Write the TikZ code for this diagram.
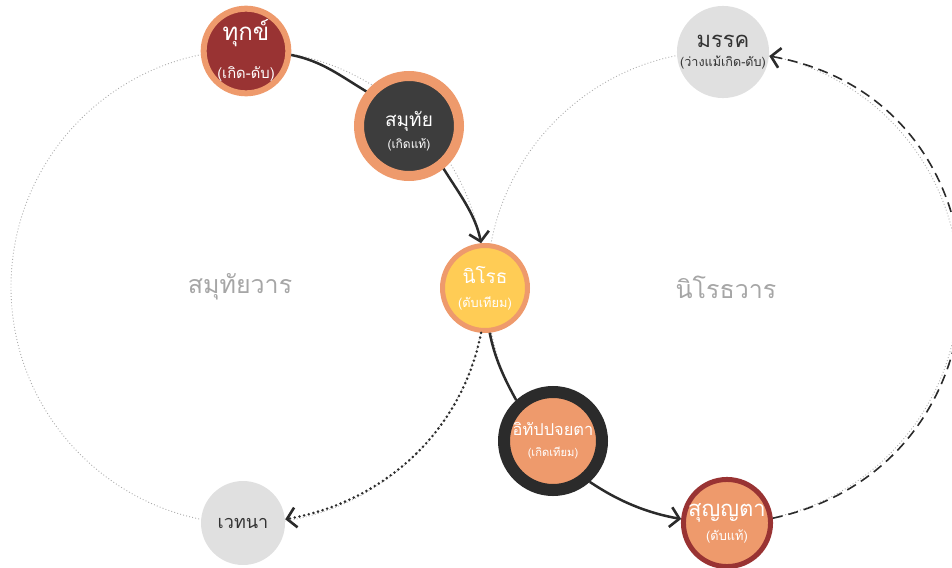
\documentclass[tikz,border=0pt]{standalone}
\usepackage{fontspec}
\newfontfamily\thai[Script=Thai]{Loma}
\usetikzlibrary{arrows.meta}
\definecolor{dred}{HTML}{993333}
\definecolor{org}{HTML}{EE9A6C}
\definecolor{dgray}{HTML}{3D3D3D}
\definecolor{ylw}{HTML}{FFCC55}
\definecolor{blk}{HTML}{2B2B2B}
\definecolor{lgray}{HTML}{E0E0E0}
\definecolor{lbl}{HTML}{A6A6A6}
\definecolor{ringc}{HTML}{ABABAB}
\definecolor{txtd}{HTML}{333333}
\newcommand{\mainf}{\fontsize{9.5}{11}\selectfont}
\newcommand{\subf}{\fontsize{6}{7}\selectfont}
\begin{document}
\begin{tikzpicture}[x=0.5pt,y=-0.5pt,
  stage/.style={circle, inner sep=0pt, align=center, font=\thai, text=white},
  ring/.style={draw=ringc, line width=0.45pt, dash pattern=on 0.45pt off 1.1pt},
  flow/.style={draw=blk, line width=1.25pt},
  tip/.style={-{Straight Barb[length=4.5pt,width=10pt,line width=1.3pt]}},
  era/.style={font=\thai\fontsize{12.5}{14}\selectfont, text=lbl}]
\clip (0,0) rectangle (952,567);
\coordinate (LC) at (248,287);
\coordinate (RC) at (723,287);
\draw[ring] (LC) circle[radius=237];
\draw[ring] (RC) circle[radius=236];
\node[era] (samuthaiwan) at (240,287) {สมุทัยวาร};
\node[era] (nirodhawan) at (726,287) {นิโรธวาร};

\node[stage, minimum size=42pt, line width=3pt, fill=dred, draw=org] (dukkha) at (246,51)
  {\fontsize{12}{13}\selectfont ทุกข์\\[7pt]\fontsize{7.4}{8}\selectfont (เกิด-ดับ)};
\node[stage, minimum size=50pt, line width=5pt, fill=dgray, draw=org] (samuthai) at (409,126)
  {\rule{0pt}{13pt}\mainf สมุทัย\\[-1pt]\subf (เกิดแท้)};
\node[stage, minimum size=42.5pt, line width=2.5pt, fill=ylw, draw=org] (nirodha) at (485,288)
  {\mainf นิโรธ\\[0pt]\fontsize{6.4}{7}\selectfont (ดับเทียม)};
\node[stage, minimum size=49pt, line width=6pt, fill=org, draw=blk] (idappa) at (553,441)
  {\fontsize{8.2}{10}\selectfont อิทัปปจยตา\\[-1.5pt]\fontsize{5.6}{7}\selectfont (เกิดเทียม)};
\node[stage, minimum size=42.5pt, line width=2.5pt, fill=org, draw=dred] (sunyata) at (727,523)
  {\fontsize{11}{12}\selectfont สุญญตา\\[0pt]\fontsize{6.4}{7}\selectfont (ดับแท้)};
\node[stage, minimum size=42pt, fill=lgray, text=txtd] (magga) at (723,52)
  {\fontsize{11}{12}\selectfont มรรค\\[-2.5pt]\fontsize{6.3}{7}\selectfont (ว่างแม้เกิด-ดับ)};
\node[stage, minimum size=42pt, fill=lgray, text=txtd] (vedana) at (243,523)
  {\fontsize{9}{10}\selectfont เวทนา};

\draw[flow] (dukkha.-5.5) to[out=-11, in=149, looseness=0.95] (samuthai.141.6);
\draw[flow, tip] (samuthai.-51.6) to[out=-58, in=101, looseness=0.9] (nirodha.95.5);
\draw[flow, tip, line width=1.4pt, dash pattern=on 0pt off 2.4pt, line cap=round]
  (nirodha.-95.5) to[out=-101, in=10, looseness=0.95] (vedana.5);
\draw[flow] (nirodha.-84.5) to[out=-79, in=119, looseness=0.9] (idappa.132.8);
\draw[flow, tip] (idappa.-48) to[out=-34, in=170, looseness=0.9] (sunyata.175.5);
\draw[flow, tip, line width=0.8pt, dash pattern=on 5pt off 3pt]
  (sunyata.6.5) to[out=12, in=-10, looseness=1.43] (magga.-5);
\end{tikzpicture}
\end{document}
